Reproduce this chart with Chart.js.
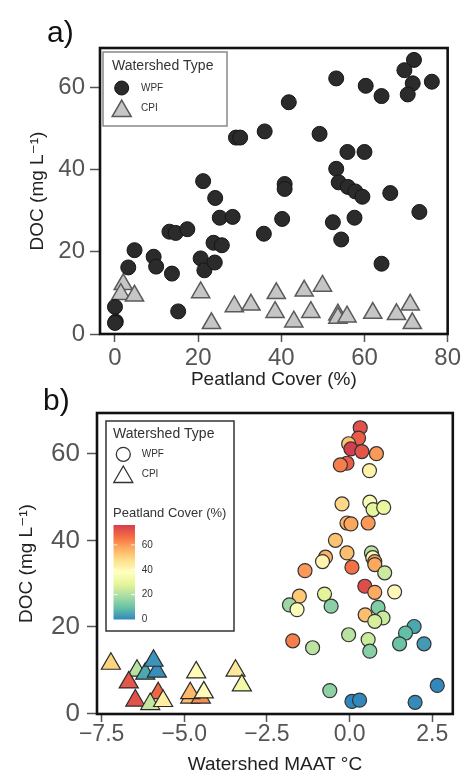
<!DOCTYPE html>
<html><head><meta charset="utf-8">
<script src="https://cdn.jsdelivr.net/npm/chart.js@4"></script>
<style>
html,body{margin:0;padding:0;background:#fff;}
body{width:465px;height:774px;position:relative;overflow:hidden;}
canvas{position:absolute;left:0;}
#ca{top:0;} #cb{top:380px;}
</style></head><body>
<canvas id="ca" width="465" height="400"></canvas>
<canvas id="cb" width="465" height="394"></canvas>
<script>
// ---------- Panel a: DOC vs Peatland cover ----------
const aWpfPeat = [53.2,60.3,64.1,71.9,69.6,71.6,70.4,76.2,41.8,29.1,30.1,36.0,49.2,55.9,60.0,53.2,21.2,24.1,40.8,40.8,53.8,56.0,57.8,59.5,66.2,25.2,28.3,40.2,52.4,57.6,54.4,73.2,64.1,35.8,13.1,14.6,17.4,4.7,9.3,9.9,3.2,13.7,20.6,21.5,23.7,24.0,25.7,15.2,0.0,0.2,0.0];
const aWpfDoc  = [62.2,60.4,57.9,66.7,64.2,61.0,58.3,61.4,56.4,47.8,47.8,49.3,48.7,44.3,44.3,40.2,37.2,33.1,36.5,35.3,36.9,35.8,34.7,33.4,34.3,28.3,28.5,28.0,27.2,28.3,23.0,29.7,17.1,24.4,24.9,24.6,25.5,20.4,18.8,16.4,16.2,14.7,18.4,15.5,22.2,17.4,21.6,5.5,6.6,3.0,2.7];
const aCpiPeat = [2.0,1.4,4.7,20.6,23.2,28.7,32.7,38.8,38.5,43.0,45.5,47.1,49.9,53.6,53.6,55.8,62.0,67.7,71.0,71.5];
const aCpiDoc  = [12.1,9.7,9.3,10.1,2.6,6.7,7.1,9.9,5.3,3.0,10.5,5.3,11.7,4.7,3.9,4.2,5.1,4.8,7.1,2.6];
const aXTicks = [0,20,40,60,80];
const aYTicks = [0,20,40,60];

// ---------- Panel b: DOC vs Watershed MAAT ----------
const bWpfMaat = [0.32,0.27,-0.03,0.04,0.37,0.81,-0.08,-0.28,0.60,-0.23,0.61,0.71,1.03,-0.08,0.04,0.56,-0.43,-0.08,-0.73,-0.82,0.66,0.70,0.76,-1.35,0.07,0.76,1.06,0.46,0.76,1.36,-1.52,-1.82,-1.59,-0.76,-0.56,0.86,0.47,1.01,0.76,1.95,1.69,1.51,2.25,-0.03,0.56,0.61,-1.72,-1.12,-0.60,0.07,0.30,1.98,2.65];
const bWpfDoc  = [66.0,63.6,62.3,61.1,60.5,60.0,57.8,57.4,56.1,48.4,48.8,47.1,47.6,44.0,43.8,44.0,40.0,37.1,36.1,35.1,37.1,36.0,35.1,33.0,33.8,34.4,32.5,29.4,28.0,28.1,27.1,25.1,24.0,27.6,24.8,24.5,22.8,22.1,21.3,20.1,18.6,16.1,16.1,18.2,17.1,14.4,16.8,15.2,5.3,2.8,3.1,2.6,6.5];
const bWpfPeat = [72,70,53,76,71.6,60,70,64,42,49,36,29,30,56,58,60,53,54,56,41,21,41,58,60,66,57.8,24,73,57.6,40,52,17,36,28,14.6,13,54,24,26,5,9,10,3,21,24,14,64,21.5,15,0,0,0.5,0];
const bCpiMaat = [-4.82,-4.50,-7.22,-6.43,-6.18,-5.83,-5.93,-6.68,-6.48,-5.79,-6.03,-5.64,-4.64,-4.82,-4.41,-3.45,-3.26];
const bCpiDoc  = [3.7,3.7,11.5,9.9,9.2,9.7,12.2,7.2,3.0,4.7,2.2,2.9,9.5,4.7,4.9,9.9,6.5];
const bCpiPeat = [54,62,50,21,5,1,2,71,72,68,23,43,39,55,39,45,33];
const bXTicks = [-7.5,-5.0,-2.5,0.0,2.5];
const bYTicks = [0,20,40,60];
const cbarTicks = [0,20,40,60];
const cbarMax = 76;

const spectral = ['#3288bd','#66c2a5','#abdda4','#e6f598','#ffffbf','#fee08b','#fdae61','#f46d43','#d53e4f'];
function hex(c){return [parseInt(c.slice(1,3),16),parseInt(c.slice(3,5),16),parseInt(c.slice(5,7),16)];}
function peatColor(v){
  const t = Math.max(0,Math.min(1,v/cbarMax))*(spectral.length-1);
  const i = Math.min(Math.floor(t), spectral.length-2), f = t-i;
  const a = hex(spectral[i]), b = hex(spectral[i+1]);
  return 'rgb('+a.map((x,k)=>Math.round(x+(b[k]-x)*f)).join(',')+')';
}

Chart.defaults.font.family = "'Liberation Sans', Arial, 'DejaVu Sans', sans-serif";
const FAM = "'Liberation Sans', Arial, 'DejaVu Sans', sans-serif";
function fixTicks(arr){ return s => { s.ticks = arr.map(v => ({value:v})); }; }
const pts = (xs, ys) => xs.map((x,i)=>({x:x, y:ys[i]}));

function drawTri(ctx, x, y, r){
  ctx.beginPath();
  for (let k=0;k<3;k++){
    const a = k*2*Math.PI/3;
    const px = x + Math.sin(a)*r, py = y - Math.cos(a)*r;
    if (k===0) ctx.moveTo(px,py); else ctx.lineTo(px,py);
  }
  ctx.closePath();
}

function boxBorder(chart){
  const {ctx, chartArea:c} = chart;
  ctx.save();
  ctx.strokeStyle = '#111'; ctx.lineWidth = 2.6;
  ctx.strokeRect(c.left, c.top, c.right-c.left, c.bottom-c.top);
  ctx.restore();
}

// ---------- Chart a ----------
new Chart(document.getElementById('ca'), {
  type: 'scatter',
  data: { datasets: [
    { label:'WPF', data: pts(aWpfPeat, aWpfDoc), pointStyle:'circle', pointRadius:7.5, pointHoverRadius:7.5,
      backgroundColor:'#2b2b2b', borderColor:'#151515', borderWidth:1, clip:false },
    { label:'CPI', data: pts(aCpiPeat, aCpiDoc), pointStyle:'triangle', pointRadius:10.5, pointHoverRadius:10.5,
      backgroundColor:'#c6c6c6', borderColor:'#5a5a5a', borderWidth:1.5, clip:false }
  ]},
  options: {
    responsive:false, animation:false, events:[],
    layout:{ padding:{ left:0, right:13, top:48, bottom:0 } },
    plugins:{ legend:{display:false}, tooltip:{enabled:false} },
    scales:{
      x:{ type:'linear', min:-3.6, max:80,
        afterBuildTicks: fixTicks(aXTicks), afterFit: s => { s.height = 66; },
        grid:{ display:true, drawOnChartArea:false, drawTicks:true, tickLength:8, tickColor:'#555', tickWidth:1.5 },
        border:{ display:false },
        ticks:{ font:{size:24, lineHeight:1}, color:'#555', padding:4, maxRotation:0, autoSkip:false },
        title:{ display:true, text:'Peatland Cover (%)', color:'#222', font:{size:19, lineHeight:1}, padding:{top:0,bottom:10.5} }
      },
      y:{ type:'linear', min:0, max:69.6,
        afterBuildTicks: fixTicks(aYTicks), afterFit: s => { s.width = 100; },
        grid:{ display:true, drawOnChartArea:false, drawTicks:true, tickLength:10, tickColor:'#555', tickWidth:1.5 },
        border:{ display:false },
        ticks:{ font:{size:24, lineHeight:1}, color:'#555', padding:5 },
        title:{ display:true, text:'DOC (mg L\u207B\u00B9)', color:'#222', font:{size:19, lineHeight:1}, padding:{top:28.5,bottom:0} }
      }
    }
  },
  plugins:[{ id:'decorA', afterDraw(chart){
    const ctx = chart.ctx;
    boxBorder(chart);
    ctx.save();
    // panel label
    ctx.fillStyle = '#111'; ctx.font = '30px '+FAM; ctx.textAlign='left'; ctx.textBaseline='alphabetic';
    ctx.fillText('a)', 47, 42);
    // legend
    ctx.fillStyle = '#fff'; ctx.fillRect(103,52,124,74);
    ctx.strokeStyle = '#888'; ctx.lineWidth = 1.5; ctx.strokeRect(103,52,124,74);
    ctx.fillStyle = '#333'; ctx.font = '14px '+FAM; ctx.textBaseline='middle';
    ctx.fillText('Watershed Type', 112, 66);
    ctx.beginPath(); ctx.arc(121.7, 88, 7, 0, 2*Math.PI);
    ctx.fillStyle='#2b2b2b'; ctx.fill(); ctx.strokeStyle='#151515'; ctx.lineWidth=1; ctx.stroke();
    drawTri(ctx, 121.7, 111, 11);
    ctx.fillStyle='#c6c6c6'; ctx.fill(); ctx.strokeStyle='#5a5a5a'; ctx.lineWidth=1.5; ctx.stroke();
    ctx.fillStyle = '#333'; ctx.font = '10px '+FAM;
    ctx.fillText('WPF', 141, 88.5);
    ctx.fillText('CPI', 141, 108.5);
    ctx.restore();
  }}]
});

// ---------- Chart b ----------
new Chart(document.getElementById('cb'), {
  type: 'scatter',
  data: { datasets: [
    { label:'CPI', data: pts(bCpiMaat, bCpiDoc), pointStyle:'triangle', pointRadius:11, pointHoverRadius:11,
      backgroundColor: bCpiPeat.map(peatColor), borderColor:'#2a2a2a', borderWidth:1.2, clip:false },
    { label:'WPF', data: pts(bWpfMaat, bWpfDoc), pointStyle:'circle', pointRadius:7, pointHoverRadius:7,
      backgroundColor: bWpfPeat.map(peatColor), borderColor:'#333', borderWidth:1.2, clip:false }
  ]},
  options: {
    responsive:false, animation:false, events:[],
    layout:{ padding:{ left:0, right:8, top:33, bottom:0 } },
    plugins:{ legend:{display:false}, tooltip:{enabled:false} },
    scales:{
      x:{ type:'linear', min:-7.64, max:3.12,
        afterBuildTicks: fixTicks(bXTicks), afterFit: s => { s.height = 60; },
        grid:{ display:true, drawOnChartArea:false, drawTicks:true, tickLength:8, tickColor:'#555', tickWidth:1.5 },
        border:{ display:false },
        ticks:{ font:{size:23, lineHeight:1}, color:'#555', padding:1, maxRotation:0, autoSkip:false,
          callback: v => (v<0?'\u2212':'') + Math.abs(v).toFixed(1) },
        title:{ display:true, text:'Watershed MAAT \u00B0C', color:'#222', font:{size:19, lineHeight:1}, padding:{top:0,bottom:0} }
      },
      y:{ type:'linear', min:-0.1, max:69.4,
        afterBuildTicks: fixTicks(bYTicks), afterFit: s => { s.width = 97; },
        grid:{ display:true, drawOnChartArea:false, drawTicks:true, tickLength:10, tickColor:'#555', tickWidth:1.5 },
        border:{ display:false },
        ticks:{ font:{size:26, lineHeight:1}, color:'#555', padding:7 },
        title:{ display:true, text:'DOC (mg L\u207B\u00B9)', color:'#222', font:{size:19, lineHeight:1}, padding:{top:17.5,bottom:0} }
      }
    }
  },
  plugins:[{ id:'decorB', afterDraw(chart){
    const ctx = chart.ctx;
    boxBorder(chart);
    ctx.save();
    ctx.fillStyle = '#111'; ctx.font = '30px '+FAM; ctx.textAlign='left'; ctx.textBaseline='alphabetic';
    ctx.fillText('b)', 43, 30);
    // legend box
    ctx.fillStyle = '#fff'; ctx.fillRect(106,41,128,210);
    ctx.strokeStyle = '#333'; ctx.lineWidth = 1.5; ctx.strokeRect(106,41,128,210);
    ctx.fillStyle = '#333'; ctx.font = '14px '+FAM; ctx.textBaseline='middle';
    ctx.fillText('Watershed Type', 113, 54);
    ctx.beginPath(); ctx.arc(123.3, 74.3, 7, 0, 2*Math.PI);
    ctx.strokeStyle='#333'; ctx.lineWidth=1.3; ctx.stroke();
    drawTri(ctx, 123.3, 97, 11); ctx.stroke();
    ctx.font = '10px '+FAM;
    ctx.fillText('WPF', 141.7, 74.5);
    ctx.fillText('CPI', 141.7, 94.5);
    ctx.font = '13px '+FAM;
    ctx.fillText('Peatland Cover (%)', 113, 133.5);
    // colour bar
    const y0 = 239.5, y1 = 145, x0 = 113.5, w = 21.5;
    const g = ctx.createLinearGradient(0, y0, 0, y1);
    spectral.forEach((c,i)=>g.addColorStop(i/(spectral.length-1), c));
    ctx.fillStyle = g; ctx.fillRect(x0, y1, w, y0-y1);
    ctx.fillStyle = '#333'; ctx.font = '10px '+FAM;
    cbarTicks.forEach(v => {
      const yy = y0 - v*(y0-y1)/cbarMax;
      if (v>0){
        ctx.strokeStyle='rgba(255,255,255,0.8)'; ctx.lineWidth=1;
        ctx.beginPath(); ctx.moveTo(x0,yy); ctx.lineTo(x0+4,yy); ctx.moveTo(x0+w-4,yy); ctx.lineTo(x0+w,yy); ctx.stroke();
      }
      ctx.fillText(String(v), 141.7, yy);
    });
    ctx.restore();
  }}]
});
</script>
</body></html>
